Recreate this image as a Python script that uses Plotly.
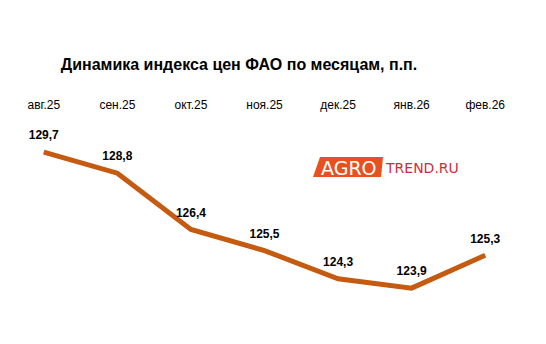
import plotly.graph_objects as go

months = ["авг.25", "сен.25", "окт.25", "ноя.25", "дек.25", "янв.26", "фев.26"]
values = [129.7, 128.8, 126.4, 125.5, 124.3, 123.9, 125.3]
title_text = "Динамика индекса цен ФАО по месяцам, п.п."

W, H = 546, 344
ML, MR, MT, MB = 7, 24, 112, 20
PW, PH = W - ML - MR, H - MT - MB

def px(x):
    return (x - ML) / PW

def py(y):
    return (H - MB - y) / PH

fig = go.Figure()
fig.add_trace(go.Scatter(
    x=months, y=values, mode="lines+text+markers",
    line=dict(color="#C55A11", width=5),
    marker=dict(size=14, color="rgba(0,0,0,0)"),
    text=[f"{v:.1f}".replace(".", ",") for v in values],
    textposition="top center",
    textfont=dict(family="Liberation Sans, Arial", size=12, color="#000000", weight="bold"),
    cliponaxis=False, hoverinfo="skip",
))

# logo
fig.add_shape(type="path", xref="paper", yref="paper",
              path=f"M {px(320)} {py(157)} L {px(383)} {py(157)} L {px(381)} {py(177)} L {px(313)} {py(177)} Z",
              fillcolor="#E8501E", line=dict(width=0))
fig.add_annotation(x=px(349), y=py(167.5), xref="paper", yref="paper", text="AGRO",
                   showarrow=False, font=dict(family="DejaVu Sans", size=19, color="white"),
                   xanchor="center", yanchor="middle")
fig.add_annotation(x=px(383), y=py(167.5), xref="paper", yref="paper", text="TREND.RU",
                   showarrow=False, font=dict(family="DejaVu Sans ExtraLight, DejaVu Sans", size=14, color="#D42B3C"),
                   xanchor="left", yanchor="middle")

fig.update_layout(
    width=W, height=H,
    margin=dict(l=ML, r=MR, t=MT, b=MB),
    paper_bgcolor="white", plot_bgcolor="white",
    showlegend=False,
    title=dict(text=title_text, x=239 / W, xref="container", xanchor="center",
               y=1 - 64 / H, yref="container", yanchor="middle",
               font=dict(family="Liberation Sans, Arial", size=16, color="#000000", weight="bold")),
    xaxis=dict(side="top", range=[-0.5, 6.5], showgrid=False, zeroline=False, showline=False,
               ticks="", tickfont=dict(family="Liberation Sans, Arial", size=12, color="#000000")),
    yaxis=dict(range=[122.37, 131.41], visible=False, showgrid=False, zeroline=False),
)

fig.write_html("out.html")
